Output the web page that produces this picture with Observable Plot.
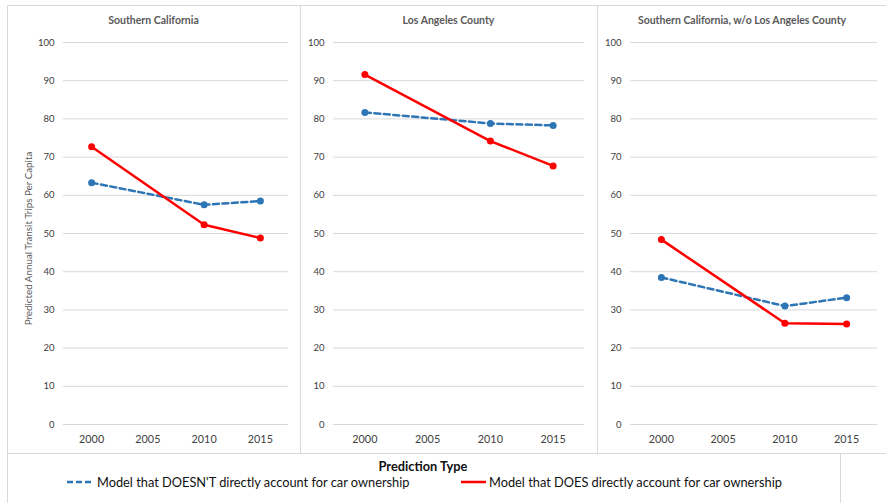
<!DOCTYPE html>
<html>
<head>
<meta charset="utf-8">
<script src="https://cdn.jsdelivr.net/npm/d3@7"></script>
<script src="https://cdn.jsdelivr.net/npm/@observablehq/plot@0.6"></script>
<style>
  html, body { margin: 0; padding: 0; background: #fff; }
  body { font-family: Lato, "Liberation Sans", sans-serif; }
  #wrap { position: relative; width: 886px; height: 503px; overflow: hidden; }
  .box { position: absolute; box-sizing: border-box; border: 1px solid #d9d9d9; }
  .ptitle { position: absolute; font-weight: bold; font-size: 10.5px; color: #595959; text-align: center; white-space: nowrap; }
  .leg { position: absolute; font-size: 12.8px; color: #111; white-space: nowrap; line-height: 14px; }
  svg.panel { position: absolute; top: 0; }
</style>
</head>
<body>
<div id="wrap"></div>
<script>
// ---- data ----
const years = [2000, 2010, 2015];
const xTicks = [2000, 2005, 2010, 2015];
const yTicks = [0, 10, 20, 30, 40, 50, 60, 70, 80, 90, 100];
const panelTitles = ["Southern California", "Los Angeles County", "Southern California, w/o Los Angeles County"];
const yLabel = "Predicted Annual Transit Trips Per Capita";
const legendTitle = "Prediction Type";
const seriesNames = ["Model that DOESN'T directly account for car ownership", "Model that DOES directly account for car ownership"];

const socalNoCar = [63.3, 57.5, 58.5];
const socalCar   = [72.7, 52.3, 48.8];
const laNoCar    = [81.7, 78.8, 78.3];
const laCar      = [91.6, 74.2, 67.7];
const restNoCar  = [38.5, 31.0, 33.2];
const restCar    = [48.4, 26.5, 26.3];

const blue = "#2E75B6";
const red = "#FF0000";
const font = "Lato, 'Liberation Sans', sans-serif";

const wrap = document.getElementById("wrap");

// panel frames
const frames = [
  {left: 7, width: 294},
  {left: 300, width: 298},
  {left: 597, width: 300}
];
frames.forEach((f, i) => {
  const d = document.createElement("div");
  d.className = "box";
  d.style.left = f.left + "px"; d.style.top = "5px";
  d.style.width = f.width + "px"; d.style.height = "449px";
  wrap.appendChild(d);
});

// panel specs
const panels = [
  {title: panelTitles[0], noCar: socalNoCar, car: socalCar, left: 7, width: 293, ml: 56, mr: 12, center: 153.5, yl: true},
  {title: panelTitles[1], noCar: laNoCar, car: laCar, left: 300, width: 297, ml: 33, mr: 13, center: 448.5},
  {title: panelTitles[2], noCar: restNoCar, car: restCar, left: 597, width: 289, ml: 33, mr: 9, center: 742}
];

panels.forEach(p => {
  const noCarRows = years.map((yr, i) => ({year: yr, value: p.noCar[i], series: seriesNames[0]}));
  const carRows = years.map((yr, i) => ({year: yr, value: p.car[i], series: seriesNames[1]}));
  const marks = [
    Plot.ruleY(yTicks, {stroke: "#d9d9d9", strokeWidth: 1}),
    Plot.axisY({ticks: yTicks, tickSize: 0, tickPadding: 9, fontSize: 9.5, fill: "#404040", label: null}),
    Plot.axisX({ticks: xTicks, tickSize: 0, tickPadding: 11, fontSize: 10.8, fill: "#404040", tickFormat: d => String(d), label: null}),
    Plot.line(noCarRows, {x: "year", y: "value", stroke: blue, strokeWidth: 2.5, strokeDasharray: "6,3.5"}),
    Plot.line(carRows, {x: "year", y: "value", stroke: red, strokeWidth: 2.5}),
    Plot.dot(noCarRows, {x: "year", y: "value", fill: blue, r: 3.5}),
    Plot.dot(carRows, {x: "year", y: "value", fill: red, r: 3.5})
  ];
  if (p.yl) {
    marks.push(Plot.text([yLabel], {frameAnchor: "left", rotate: -90, dx: -35, dy: 5, fontSize: 9.8, fill: "#595959", textAnchor: "middle"}));
  }
  const svg = Plot.plot({
    width: p.width,
    height: 453,
    marginTop: 42,
    marginBottom: 29,
    marginLeft: p.ml,
    marginRight: p.mr,
    x: {domain: [1997.5, 2017.5]},
    y: {domain: [0, 100]},
    style: {fontFamily: font, background: "transparent", overflow: "visible"},
    marks
  });
  svg.classList.add("panel");
  svg.style.left = p.left + "px";
  wrap.appendChild(svg);

  const t = document.createElement("div");
  t.className = "ptitle";
  t.textContent = p.title;
  t.style.left = (p.center - 150) + "px";
  t.style.width = "300px";
  t.style.top = "14px";
  wrap.appendChild(t);
});

// legend
const lg = document.createElement("div");
lg.className = "box";
lg.style.left = "7px"; lg.style.top = "453px"; lg.style.width = "834px"; lg.style.height = "60px";
wrap.appendChild(lg);

const lt = document.createElement("div");
lt.className = "leg";
lt.style.fontWeight = "bold";
lt.style.left = "273px"; lt.style.width = "300px"; lt.style.textAlign = "center";
lt.style.top = "459px";
lt.textContent = legendTitle;
wrap.appendChild(lt);

const items = [
  {x1: 67, x2: 91, tx: 97, color: blue, dash: "6,3", name: seriesNames[0]},
  {x1: 461, x2: 486, tx: 489, color: red, dash: null, name: seriesNames[1]}
];
const ns = "http://www.w3.org/2000/svg";
items.forEach(it => {
  const s = document.createElementNS(ns, "svg");
  s.setAttribute("width", it.x2 - it.x1);
  s.setAttribute("height", 6);
  s.style.position = "absolute";
  s.style.left = it.x1 + "px";
  s.style.top = "479px";
  const l = document.createElementNS(ns, "line");
  l.setAttribute("x1", 0); l.setAttribute("x2", it.x2 - it.x1);
  l.setAttribute("y1", 3); l.setAttribute("y2", 3);
  l.setAttribute("stroke", it.color); l.setAttribute("stroke-width", 2.5);
  if (it.dash) l.setAttribute("stroke-dasharray", it.dash);
  s.appendChild(l);
  wrap.appendChild(s);
  const tx = document.createElement("div");
  tx.className = "leg";
  tx.style.left = it.tx + "px";
  tx.style.top = "475px";
  tx.textContent = it.name;
  wrap.appendChild(tx);
});
</script>
</body>
</html>
